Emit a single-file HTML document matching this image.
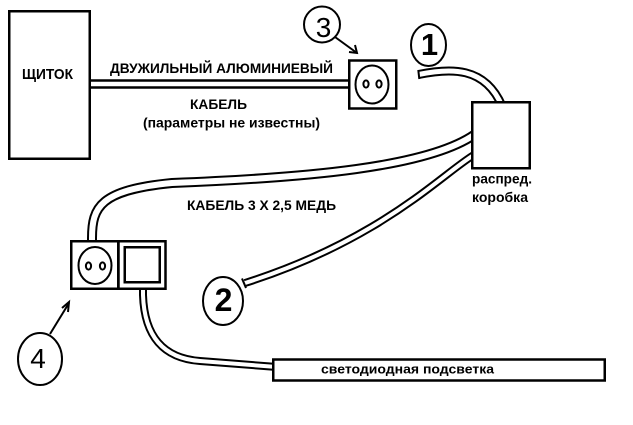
<!DOCTYPE html>
<html>
<head>
<meta charset="utf-8">
<style>
  html, body { margin:0; padding:0; background:#fff; }
  svg { display:block; }
  text { font-family: "Liberation Sans", "DejaVu Sans", sans-serif; fill:#000; }
</style>
</head>
<body>
<svg width="633" height="425" viewBox="0 0 633 425" xmlns="http://www.w3.org/2000/svg">
  <rect x="0" y="0" width="633" height="425" fill="#fff"/>

  <!-- cables (black then white core) -->
  <g fill="none" stroke-linecap="butt" stroke-linejoin="round">
    <!-- cable A: socket4 -> box -->
    <path d="M92 244 L92 238 C92 207 100 190 172 183 C300 178 432 168 478 132" stroke="#000" stroke-width="10"/>
    <path d="M92 244 L92 238 C92 207 100 190 172 183 C300 178 432 168 478 132" stroke="#fff" stroke-width="6"/>
    <!-- cable 2 -->
    <path d="M478 152 L473 155.5 C440 176 380 240 245 283" stroke="#000" stroke-width="8"/>
    <path d="M478 152 L473 155.5 C440 176 380 240 245 283" stroke="#fff" stroke-width="4"/>
    <!-- cable 1 -->
    <path d="M418.5 74.5 C450 68 485 66 502 106" stroke="#000" stroke-width="9"/>
    <path d="M418.5 74.5 C450 68 485 66 502 106" stroke="#fff" stroke-width="5"/>
    <!-- switch cable -->
    <path d="M143 286 L143 295 Q145 357 200 361 L277 367" stroke="#000" stroke-width="8"/>
    <path d="M143 286 L143 295 Q145 357 200 361 L277 367" stroke="#fff" stroke-width="4"/>
  </g>
  <!-- end caps -->
  <line x1="418.3" y1="70" x2="419.3" y2="79" stroke="#000" stroke-width="2"/>
  <line x1="242" y1="278.5" x2="246" y2="288" stroke="#000" stroke-width="2"/>

  <!-- main double line -->
  <line x1="90" y1="80.5" x2="349" y2="80.5" stroke="#000" stroke-width="2.5"/>
  <line x1="90" y1="87.5" x2="349" y2="87.5" stroke="#000" stroke-width="2.5"/>

  <g fill="#fff" stroke="#000" stroke-width="2.5">
    <!-- щиток -->
    <rect x="9.25" y="11.25" width="80.5" height="147.5"/>
    <!-- socket 3 -->
    <rect x="349.25" y="60.5" width="47" height="48"/>
    <!-- junction box -->
    <rect x="472.25" y="102.25" width="57.5" height="66"/>
    <!-- socket 4 + switch -->
    <rect x="71.25" y="241.25" width="47" height="47.5"/>
    <rect x="118.5" y="241.25" width="47" height="47.5"/>
    <rect x="124.75" y="247.25" width="35" height="35"/>
    <!-- LED strip -->
    <rect x="273.25" y="359.5" width="331.5" height="21"/>
  </g>

  <!-- socket faces -->
  <g fill="none" stroke="#000" stroke-width="2">
    <ellipse cx="372" cy="84.5" rx="16.5" ry="19"/>
    <ellipse cx="366" cy="84" rx="2.6" ry="3.6"/>
    <ellipse cx="379" cy="84" rx="2.6" ry="3.6"/>
    <ellipse cx="95" cy="265.5" rx="16.5" ry="18.5"/>
    <ellipse cx="88.5" cy="266" rx="2.6" ry="3.6"/>
    <ellipse cx="102.5" cy="266" rx="2.6" ry="3.6"/>
  </g>

  <!-- number circles -->
  <g fill="none" stroke="#000" stroke-width="2">
    <ellipse cx="322" cy="24.5" rx="18" ry="18"/>
    <ellipse cx="428.5" cy="45" rx="17.5" ry="21"/>
    <ellipse cx="223" cy="301" rx="20" ry="24"/>
    <ellipse cx="40" cy="359" rx="22" ry="26"/>
  </g>
  <text x="323.5" y="37" font-size="28" text-anchor="middle">3</text>
  <text x="429.5" y="55" font-size="31" font-weight="bold" text-anchor="middle">1</text>
  <text x="223.5" y="311" font-size="32" font-weight="bold" text-anchor="middle">2</text>
  <text x="38" y="368" font-size="28" text-anchor="middle">4</text>

  <!-- arrows -->
  <g fill="none" stroke="#000" stroke-width="2">
    <line x1="335" y1="37" x2="357" y2="53"/>
    <polyline points="349,52 357,53 355,45"/>
    <line x1="50" y1="334" x2="69" y2="303"/>
    <polyline points="62,308 69,302 68,312"/>
  </g>

  <!-- labels -->
  <text x="22" y="79" font-size="15" font-weight="bold" textLength="51" lengthAdjust="spacingAndGlyphs">ЩИТОК</text>
  <text x="110" y="73" font-size="14" font-weight="bold" textLength="223" lengthAdjust="spacingAndGlyphs">ДВУЖИЛЬНЫЙ АЛЮМИНИЕВЫЙ</text>
  <text x="190" y="109" font-size="13.5" font-weight="bold" textLength="57" lengthAdjust="spacingAndGlyphs">КАБЕЛЬ</text>
  <text x="143" y="127.5" font-size="13.5" font-weight="bold" textLength="177" lengthAdjust="spacingAndGlyphs">(параметры не известны)</text>
  <text x="187" y="210" font-size="13.5" font-weight="bold" textLength="149" lengthAdjust="spacingAndGlyphs">КАБЕЛЬ 3 Х 2,5 МЕДЬ</text>
  <text x="472" y="183.5" font-size="14" font-weight="bold" textLength="60" lengthAdjust="spacingAndGlyphs">распред.</text>
  <text x="472" y="202" font-size="14" font-weight="bold" textLength="56" lengthAdjust="spacingAndGlyphs">коробка</text>
  <text x="321" y="373.5" font-size="12.5" font-weight="bold" textLength="173" lengthAdjust="spacingAndGlyphs">светодиодная подсветка</text>
</svg>
</body>
</html>
